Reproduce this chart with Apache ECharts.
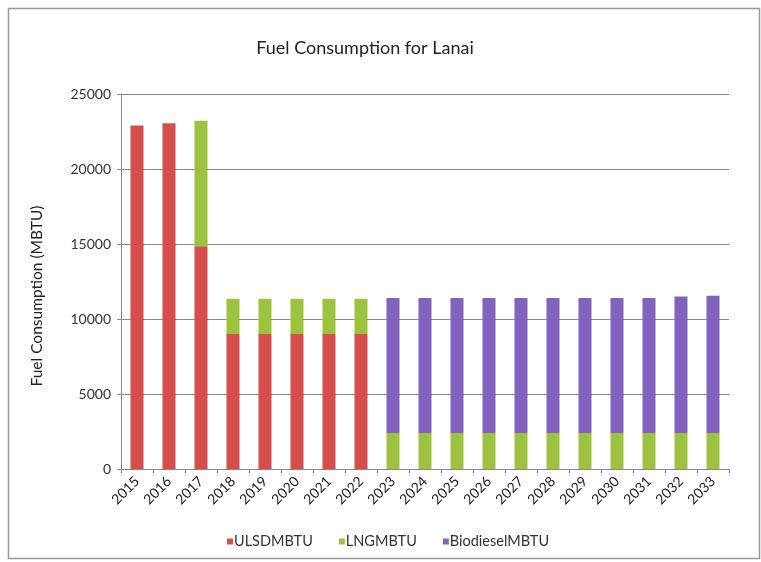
<!DOCTYPE html>
<html>
<head>
<meta charset="utf-8">
<script src="https://cdn.jsdelivr.net/npm/echarts@6/dist/echarts.min.js"></script>
<style>
html,body{margin:0;padding:0;background:#fff;}
#chart{width:761px;height:562px;}
</style>
</head>
<body>
<div id="chart"></div>
<script>
const years = ['2015','2016','2017','2018','2019','2020','2021','2022','2023','2024','2025','2026','2027','2028','2029','2030','2031','2032','2033'];
const ulsd = [22900, 23050, 14850, 9000, 9000, 9000, 9000, 9000, 0, 0, 0, 0, 0, 0, 0, 0, 0, 0, 0];
const lng = [0, 0, 8370, 2350, 2350, 2350, 2350, 2350, 2400, 2400, 2400, 2400, 2400, 2400, 2400, 2400, 2400, 2400, 2400];
const biodiesel = [0, 0, 0, 0, 0, 0, 0, 0, 9000, 9000, 9000, 9000, 9000, 9000, 9000, 9000, 9000, 9100, 9150];
const yTicks = [0, 5000, 10000, 15000, 20000, 25000];
const yAxisTitle = 'Fuel Consumption (MBTU)';

const FONT = 'Lato, "Open Sans", sans-serif';
const chart = echarts.init(document.getElementById('chart'));
const barW = 13;
chart.setOption({
  animation: false,
  backgroundColor: '#fff',
  graphic: [{
    type: 'rect', left: 6, top: 6,
    shape: {width: 751, height: 550},
    style: {fill: 'none', stroke: '#9a9a9a', lineWidth: 1.5},
    silent: true
  }, {
    type: 'text', x: 37, y: 296, rotation: Math.PI / 2,
    style: {text: yAxisTitle, fontFamily: FONT, fontSize: 15.5, fill: '#222', align: 'center', verticalAlign: 'middle'},
    silent: true
  }],
  title: {
    text: 'Fuel Consumption for Lanai',
    left: 360, top: 34, textAlign: 'center',
    textStyle: {fontFamily: FONT, fontSize: 18, fontWeight: 'normal', color: '#222'}
  },
  legend: {
    bottom: 8, left: 222,
    itemWidth: 6, itemHeight: 6, itemGap: 26,
    icon: 'rect',
    textStyle: {fontFamily: FONT, fontSize: 14.5, color: '#333', padding: [0,0,0,-4]},
    data: ['ULSDMBTU', 'LNGMBTU', 'BiodieselMBTU']
  },
  grid: {left: 121, right: 32, top: 94, bottom: 93, containLabel: false},
  xAxis: {
    type: 'category',
    data: years,
    axisLine: {lineStyle: {color: '#888'}},
    axisTick: {show: true, length: 4, lineStyle: {color: '#888'}},
    axisLabel: {rotate: 45, fontFamily: FONT, fontSize: 14, color: '#222', margin: 10}
  },
  yAxis: {
    type: 'value',
    min: yTicks[0], max: yTicks[yTicks.length - 1], interval: 5000,
    axisLine: {show: true, lineStyle: {color: '#888'}},
    axisTick: {show: true, length: 4, lineStyle: {color: '#888'}},
    axisLabel: {fontFamily: FONT, fontSize: 14, color: '#333', margin: 10, formatter: v => String(v)},
    splitLine: {lineStyle: {color: '#8a8a8a', width: 1}}
  },
  series: [
    {name: 'ULSDMBTU', type: 'bar', stack: 'fuel', barWidth: barW, data: ulsd, itemStyle: {color: '#d64f4f'}},
    {name: 'LNGMBTU', type: 'bar', stack: 'fuel', barWidth: barW, data: lng, itemStyle: {color: '#9dc23f'}},
    {name: 'BiodieselMBTU', type: 'bar', stack: 'fuel', barWidth: barW, data: biodiesel, itemStyle: {color: '#8063bd'}}
  ]
});
</script>
</body>
</html>
